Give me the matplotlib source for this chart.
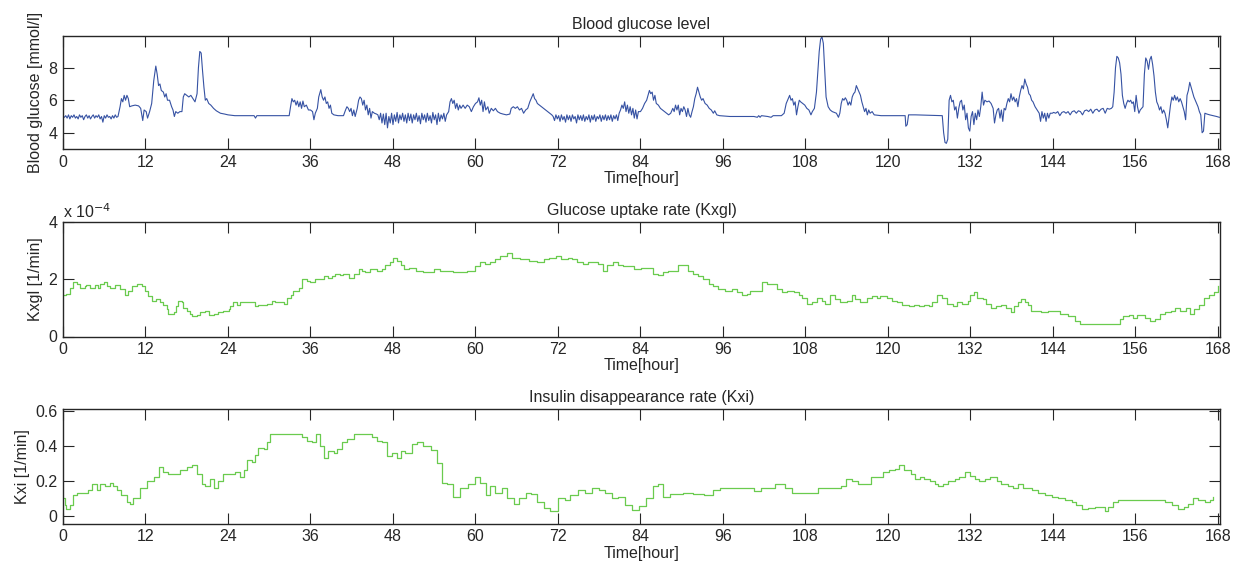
import numpy as np
import matplotlib
matplotlib.use("Agg")
from matplotlib import pyplot as plt

plt.rcParams["font.family"] = ["Liberation Sans", "DejaVu Sans"]
plt.rcParams["font.size"] = 11.5
plt.rcParams["text.color"] = "#262626"
plt.rcParams["axes.labelcolor"] = "#262626"
plt.rcParams["xtick.color"] = "#262626"
plt.rcParams["ytick.color"] = "#262626"

# ---- blood glucose [mmol/l] ----
# noisy stretches sampled at a fixed step: (start hour, step, values)
bg_night1 = [5.0, 4.95, 5.05, 4.9, 5.1, 4.85, 5.05, 4.95, 5.1, 4.9, 5.0, 4.85, 5.1, 4.95,
             5.05, 4.8, 5.0, 5.1, 4.9, 5.05, 4.85, 5.0, 5.1, 4.9, 5.05, 4.95, 5.1, 4.85,
             5.0, 4.65, 5.05, 4.9, 5.1, 4.95, 5.0, 4.85, 5.05, 4.9, 5.1, 4.95]
bg_night2 = [5.1, 4.8, 5.2, 4.6, 5.15, 4.5, 5.2, 4.3, 5.0, 4.6, 5.2, 4.5, 5.1, 4.7, 5.25,
             4.6, 5.1, 4.8, 5.2, 4.7, 5.1, 4.6, 5.2, 4.75, 5.15, 4.6, 5.1, 4.8, 5.2, 4.7,
             5.05, 4.55, 5.2, 4.8, 5.1, 4.65, 5.2, 4.75, 5.05, 4.6, 5.25, 4.8, 5.1, 4.5,
             5.2, 4.7, 5.1, 4.85, 5.2, 4.7, 5.1]
bg_night3 = [5.0, 4.75, 5.1, 4.85, 5.05, 4.7, 5.1, 4.8, 5.0, 4.65, 5.1, 4.8, 5.05, 4.7,
             5.1, 4.85, 5.0, 4.6, 5.1, 4.8, 5.05, 4.75, 5.1, 4.7, 5.0, 4.8, 5.1, 4.65,
             5.05, 4.8, 5.1, 4.7, 5.0, 4.85, 5.1, 4.7, 5.05, 4.8, 5.1, 4.75, 5.05, 4.8,
             5.1, 4.7, 5.05, 4.85, 5.1, 4.75, 5.2]
bg_night4 = [5.25, 5.2, 5.3, 5.05, 5.25, 5.3, 5.2, 5.3, 5.1, 5.3, 5.35, 5.2, 5.35, 5.3,
             5.1, 5.35, 5.4, 5.3, 5.45, 5.2, 5.4, 5.45, 5.3, 5.45, 5.5, 5.2, 5.5, 5.45, 5.5]
bg_noisy = [(0.0, 0.2, bg_night1), (45.8, 0.2, bg_night2),
            (71.3, 0.2, bg_night3), (144.1, 0.3, bg_night4)]

# the rest, read point by point
bg_hours = [8.0, 8.3, 8.5, 8.7, 8.9, 9.1, 9.3, 9.5, 9.7, 10.0, 10.5, 11.0, 11.3, 11.6, 11.8,
            12.1, 12.3, 12.6, 12.9, 13.2, 13.5, 13.7, 13.9, 14.1, 14.3, 14.6, 14.8, 15.0,
            15.2, 15.5, 15.8, 16.0, 16.2, 16.4, 16.7, 17.0, 17.3, 17.5, 17.7, 18.0, 18.3,
            18.6, 18.9, 19.2, 19.5, 19.7, 19.9, 20.1, 20.3, 20.5, 20.7, 20.9, 21.2, 21.5,
            21.9, 22.3, 22.9, 23.5, 24.0, 25.0, 27.0, 27.8, 28.0, 28.2, 30.0, 32.9, 33.1,
            33.3, 33.5, 33.7, 33.9, 34.1, 34.3, 34.5, 34.7, 34.9, 35.1, 35.4, 35.7, 36.0,
            36.3, 36.5, 36.7, 37.0, 37.2, 37.4, 37.5, 37.7, 37.9, 38.1, 38.3, 38.5, 38.7,
            38.9, 39.1, 39.4, 40.0, 40.8, 41.1, 41.3, 41.5, 41.7, 41.9, 42.1, 42.3, 42.5,
            42.8, 43.0, 43.2, 43.4, 43.6, 43.8, 44.0, 44.2, 44.4, 44.6, 44.8, 45.0, 45.3,
            45.6,
            56.1, 56.3, 56.5, 56.7, 56.9, 57.1, 57.3, 57.5, 57.7, 57.9, 58.2, 58.5, 58.8,
            59.1, 59.4, 59.7, 60.0, 60.3, 60.5, 60.7, 60.9, 61.1, 61.3, 61.5, 61.8, 62.0,
            62.3, 62.6, 62.9, 63.2, 63.6, 64.0, 64.5, 65.0, 65.2, 65.5, 65.8, 66.1, 66.4,
            66.7, 67.0, 67.3, 67.6, 67.9, 68.2, 68.4, 68.6, 68.8, 69.0, 69.3, 69.6, 69.9,
            70.2, 70.5, 70.8, 71.1,
            81.1, 81.3, 81.5, 81.7, 81.9, 82.1, 82.3, 82.5, 82.7, 82.9, 83.1, 83.3, 83.5,
            83.7, 84.0, 84.3, 84.6, 84.9, 85.1, 85.3, 85.5, 85.7, 85.9, 86.1, 86.3, 86.6,
            86.9, 87.2, 87.5, 87.8, 88.1, 88.4, 88.7, 88.9, 89.1, 89.3, 89.5, 89.7, 89.9,
            90.1, 90.3, 90.5, 90.7, 90.9, 91.1, 91.3, 91.5, 91.7, 91.9, 92.1, 92.3, 92.5,
            92.7, 92.9, 93.1, 93.4, 93.7, 94.0, 94.3, 94.6, 94.8, 95.1, 95.5, 97.0, 99.0,
            100.5, 101.0, 101.2, 101.4, 101.6, 102.5, 103.0, 103.3, 104.5, 104.9, 105.2,
            105.5, 105.7, 105.9, 106.1, 106.3, 106.5, 106.7, 106.9, 107.1, 107.3, 107.6,
            107.9, 108.2, 108.5, 108.8, 109.0, 109.3, 109.6, 109.8, 110.0, 110.2, 110.4,
            110.6, 110.8, 111.0, 111.3, 111.6, 111.9, 112.2, 112.5, 112.8, 113.0, 113.2,
            113.4, 113.6, 113.8, 114.0, 114.2, 114.4, 114.6, 114.8, 115.0, 115.2, 115.4,
            115.6, 115.8, 116.0, 116.2, 116.4, 116.6, 116.8, 117.0, 117.2, 117.4, 117.7,
            118.0, 119.0, 122.5, 122.6, 122.8, 123.0, 124.0, 127.9, 128.1, 128.3, 128.5,
            128.7, 128.9, 129.1, 129.3, 129.5, 129.7, 129.9, 130.1, 130.3, 130.5, 130.7,
            130.9, 131.1, 131.3, 131.5, 131.7, 131.9, 132.1, 132.3, 132.5, 132.7, 132.9,
            133.1, 133.3, 133.5, 133.7, 133.9, 134.1, 134.4, 134.7, 135.0, 135.3, 135.5,
            135.7, 135.9, 136.1, 136.3, 136.5, 136.7, 136.9, 137.1, 137.3, 137.5, 137.7,
            137.9, 138.1, 138.3, 138.5, 138.7, 138.9, 139.1, 139.3, 139.5, 139.7, 139.9,
            140.1, 140.3, 140.5, 140.7, 140.9, 141.1, 141.4, 141.7, 142.0, 142.2, 142.4,
            142.6, 142.8, 143.0, 143.2, 143.4, 143.6, 143.9,
            152.7, 152.9, 153.1, 153.3, 153.5, 153.7, 153.9, 154.1, 154.3, 154.5, 154.7,
            154.9, 155.1, 155.3, 155.5, 155.7, 155.9, 156.1, 156.3, 156.5, 156.7, 156.9,
            157.1, 157.3, 157.5, 157.7, 157.9, 158.1, 158.3, 158.5, 158.7, 158.9, 159.1,
            159.3, 159.5, 159.7, 159.9, 160.1, 160.3, 160.5, 160.7, 160.9, 161.1, 161.3,
            161.5, 161.7, 161.9, 162.1, 162.3, 162.5, 162.7, 162.9, 163.1, 163.3, 163.5,
            163.7, 163.9, 164.1, 164.3, 164.5, 164.7, 164.9, 165.1, 165.3, 165.5, 165.7,
            165.9, 166.1, 166.4, 166.8, 167.3, 167.8, 168.2]
bg_mmol = [5.0, 5.6, 6.1, 5.9, 6.3, 6.0, 6.3, 6.1, 5.6, 5.65, 5.7, 5.65, 5.5, 4.75, 5.4,
           5.3, 4.9, 5.3, 5.8, 7.2, 8.1, 7.6, 6.9, 7.0, 6.6, 6.5, 6.2, 6.4,
           6.0, 6.0, 5.6, 5.4, 5.0, 5.3, 5.2, 5.3, 5.3, 6.2, 6.4, 6.3, 6.2,
           6.3, 6.1, 5.9, 6.4, 8.0, 9.0, 8.9, 7.8, 6.8, 6.0, 6.1, 5.8, 5.7,
           5.5, 5.35, 5.2, 5.15, 5.1, 5.05, 5.05, 5.05, 4.9, 5.05, 5.05, 5.05, 5.6,
           6.1, 5.9, 6.0, 5.7, 5.95, 5.6, 5.9, 5.5, 5.95, 5.6, 5.7, 5.4, 5.4,
           5.3, 4.8, 5.2, 5.5, 6.2, 6.5, 6.65, 6.2, 6.0, 6.2, 5.8, 5.9, 5.5,
           5.7, 5.2, 5.1, 5.05, 5.05, 5.4, 5.6, 5.5, 5.3, 5.5, 5.05, 5.4, 5.0,
           5.5, 6.0, 6.2, 6.1, 5.7, 6.0, 5.4, 5.7, 5.1, 5.5, 4.9, 5.3, 5.2,
           5.15,
           5.3, 5.9, 6.1, 5.8, 6.0, 5.5, 5.8, 5.4, 5.7, 5.5, 5.7, 5.5, 5.7,
           5.6, 5.3, 5.6, 5.8, 5.9, 6.15, 5.7, 6.0, 5.3, 5.9, 5.4, 5.6, 5.2,
           5.5, 5.35, 5.5, 5.3, 5.2, 5.15, 5.1, 5.15, 5.5, 5.6, 5.5, 5.6, 5.4,
           5.5, 5.2, 5.4, 5.5, 5.9, 6.2, 6.4, 6.1, 6.0, 5.8, 5.7, 5.6, 5.5,
           5.4, 5.3, 5.2, 5.1,
           5.4, 5.7, 5.5, 5.9, 5.3, 5.7, 5.2, 5.6, 5.1, 5.5, 4.9, 5.4, 4.85,
           5.3, 5.3, 5.5, 5.8, 6.0, 6.3, 6.6, 6.4, 6.5, 6.0, 6.3, 5.8, 5.7,
           5.5, 5.4, 5.3, 5.2, 5.1, 5.2, 5.5, 5.3, 5.7, 5.4, 5.7, 5.1, 5.5,
           5.3, 5.6, 5.4, 5.0, 5.5, 5.1, 4.95, 5.3, 5.6, 6.1, 6.4, 6.8, 6.5,
           6.2, 6.0, 6.1, 5.8, 5.7, 5.5, 5.4, 5.2, 5.35, 5.1, 5.05, 5.0, 5.0,
           5.0, 4.95, 5.05, 4.95, 5.05, 5.0, 4.95, 5.05, 5.05, 5.2, 5.8,
           6.1, 6.3, 6.0, 6.1, 5.7, 5.9, 5.1, 5.6, 6.0, 5.9, 5.8,
           5.7, 5.5, 5.4, 5.1, 5.3, 5.5, 6.5, 7.8, 9.0, 9.75, 9.9,
           9.5, 7.8, 6.2, 5.6, 5.4, 5.3, 5.25, 5.2, 4.95, 5.2, 5.8,
           6.1, 6.0, 6.15, 6.0, 5.7, 5.9, 5.7, 6.2, 6.4, 6.5, 6.9,
           6.7, 6.5, 6.3, 5.9, 5.6, 5.3, 5.5, 5.1, 5.4, 5.2, 5.3,
           5.1, 5.05, 5.05, 4.4, 4.5, 5.1, 5.1, 5.05, 4.0, 3.4, 3.35,
           3.6, 6.0, 6.3, 5.9, 6.0, 5.4, 5.6, 4.9, 5.5, 5.9, 6.0,
           5.4, 5.7, 4.8, 5.2, 4.3, 4.1, 5.0, 5.3, 4.5, 5.2, 4.8,
           5.4, 5.0, 5.6, 6.5, 5.7, 6.0, 5.9, 5.95, 5.8, 5.5, 4.6,
           5.1, 5.4, 5.5, 4.9, 5.4, 4.7, 5.5, 5.4, 5.8, 6.1, 5.9,
           6.4, 6.0, 6.2, 5.9, 6.1, 5.6, 6.2, 6.6, 6.9, 6.7, 7.3,
           7.0, 6.8, 6.4, 6.3, 6.0, 5.9, 5.6, 5.4, 5.2, 4.7, 5.3,
           4.9, 5.2, 4.7, 5.2, 4.9, 5.2, 5.2,
           5.6, 6.5, 8.0, 8.7, 8.6, 8.3, 7.6, 6.3, 5.8, 5.5, 5.8,
           6.0, 5.9, 6.0, 5.8, 5.9, 5.3, 6.3, 5.6, 5.2, 5.4, 5.5,
           5.6, 7.6, 8.6, 8.4, 7.9, 8.5, 8.7, 8.2, 7.5, 6.5, 5.9,
           5.7, 5.4, 5.6, 5.2, 5.4, 5.2, 4.8, 4.3, 5.0, 5.7, 6.2,
           6.0, 6.3, 6.0, 6.2, 5.9, 6.1, 5.9, 5.6, 5.3, 4.8, 6.3,
           6.6, 7.1, 6.8, 6.5, 6.2, 6.0, 5.8, 5.6, 5.3, 5.1, 4.0,
           4.1, 5.2, 5.15, 5.1, 5.05, 5.0, 4.95]

# ---- glucose uptake rate Kxgl [1e-4 1/min], piecewise constant ----
kxgl_hours = [0.0, 0.5, 1.0, 1.5, 2.0, 2.5, 3.2, 3.4, 3.9, 4.7, 5.1, 5.4, 5.9, 6.4, 6.8, 7.6,
              8.3, 9.0, 9.5, 10.0, 10.7, 11.5, 11.9, 12.4, 12.9, 13.6, 14.1, 14.6, 15.1,
              15.3, 16.1, 16.5, 16.8, 17.3, 17.5, 18.0, 18.5, 18.7, 19.5, 20.0, 20.7, 21.2,
              21.9, 22.6, 23.3, 24.1, 24.3, 24.8, 25.3, 25.8, 26.7, 28.0, 28.4, 29.2, 29.7,
              30.4, 30.9, 31.6, 32.1, 32.6, 33.1, 33.5, 34.3, 34.8, 35.5, 36.0, 36.7, 37.4,
              37.9, 38.6, 39.1, 39.6, 40.3, 40.8, 41.6, 42.3, 43.0, 43.5, 44.0, 44.7, 45.7,
              46.4, 46.9, 47.6, 48.0, 48.6, 49.1, 49.6, 50.4, 51.4, 52.4, 53.1, 53.9, 54.8,
              55.8, 56.8, 57.8, 58.7, 59.5, 60.0, 60.7, 61.4, 62.1, 62.9, 63.6, 64.6, 65.3,
              66.5, 67.8, 69.0, 70.0, 70.7, 71.7, 72.4, 73.4, 74.1, 74.8, 75.6, 76.3, 77.0,
              77.8, 78.5, 79.2, 80.0, 80.7, 81.4, 82.1, 83.1, 84.1, 85.1, 85.8, 86.5, 87.3,
              88.0, 88.7, 89.5, 90.2, 90.9, 91.7, 92.4, 93.1, 93.9, 94.6, 95.3, 96.3, 97.3,
              98.0, 98.7, 99.5, 100.0, 100.7, 101.7, 102.4, 103.1, 103.9, 104.6, 105.3,
              106.3, 107.0, 107.5, 108.2, 108.9, 109.7, 110.4, 110.8, 111.6, 112.3, 113.0,
              114.0, 114.7, 115.2, 116.0, 116.9, 117.7, 118.4, 118.9, 119.9, 120.6, 121.3,
              122.0, 123.0, 123.8, 124.5, 125.2, 126.0, 126.4, 127.2, 127.9, 128.6, 129.4,
              130.1, 130.8, 131.6, 132.0, 132.5, 133.0, 133.8, 134.2, 135.0, 135.7, 136.4,
              137.2, 137.9, 138.4, 138.9, 139.4, 139.9, 140.3, 140.8, 141.8, 142.3, 143.3,
              144.2, 145.0, 146.2, 147.2, 147.9, 148.6, 153.5, 153.8, 154.2, 155.0, 155.7,
              156.2, 156.9, 157.4, 158.1, 158.9, 159.6, 160.3, 161.1, 161.8, 162.5, 163.3,
              164.0, 164.5, 165.2, 165.9, 166.7, 167.4, 168.0]
kxgl_vals = [1.45, 1.5, 1.7, 1.9, 1.85, 1.7, 1.75, 1.8, 1.7, 1.8, 1.7, 1.85, 1.9, 1.75, 1.7,
             1.8, 1.65, 1.45, 1.6, 1.75, 1.85, 1.75, 1.6, 1.4, 1.25, 1.3, 1.2, 1.1, 0.95,
             0.8, 0.85, 1.05, 1.25, 1.2, 1.0, 0.9, 0.8, 0.7, 0.75, 0.85, 0.9, 0.75,
             0.8, 0.85, 0.9, 0.95, 1.05, 1.2, 1.1, 1.2, 1.2, 1.05, 1.1, 1.1, 1.15,
             1.25, 1.2, 1.2, 1.15, 1.35, 1.45, 1.6, 1.7, 2.0, 1.95, 1.9, 2.0, 2.0,
             2.1, 2.05, 2.1, 2.2, 2.15, 2.2, 2.05, 2.2, 2.35, 2.3, 2.25, 2.35, 2.3,
             2.35, 2.5, 2.6, 2.75, 2.65, 2.5, 2.35, 2.4, 2.3, 2.25, 2.25, 2.35, 2.3,
             2.3, 2.25, 2.25, 2.3, 2.3, 2.45, 2.6, 2.55, 2.6, 2.7, 2.8, 2.9, 2.75,
             2.7, 2.65, 2.6, 2.7, 2.75, 2.8, 2.7, 2.75, 2.7, 2.6, 2.55, 2.6, 2.6,
             2.55, 2.3, 2.5, 2.6, 2.5, 2.45, 2.45, 2.35, 2.4, 2.4, 2.2, 2.15, 2.25,
             2.3, 2.3, 2.5, 2.5, 2.3, 2.2, 2.1, 2.0, 1.85, 1.75, 1.65, 1.6, 1.65,
             1.55, 1.45, 1.5, 1.6, 1.6, 1.9, 1.85, 1.85, 1.65, 1.55, 1.6,
             1.55, 1.45, 1.35, 1.15, 1.2, 1.35, 1.25, 1.15, 1.45, 1.3, 1.2,
             1.25, 1.45, 1.3, 1.2, 1.35, 1.4, 1.35, 1.4, 1.35, 1.25, 1.2,
             1.1, 1.05, 1.1, 1.05, 1.1, 1.05, 1.2, 1.45, 1.35, 1.15, 1.05,
             1.2, 1.15, 1.25, 1.45, 1.55, 1.35, 1.3, 1.15, 1.0, 1.05, 1.1,
             1.0, 0.85, 1.05, 1.2, 1.3, 1.2, 1.1, 0.9, 0.9, 0.85, 0.9,
             0.9, 0.8, 0.7, 0.55, 0.45, 0.43, 0.43, 0.6, 0.7, 0.75, 0.65,
             0.75, 0.75, 0.65, 0.55, 0.6, 0.8, 0.85, 0.9, 1.0, 0.9, 1.0,
             0.8, 0.95, 1.1, 1.35, 1.45, 1.55, 1.75]

# ---- insulin disappearance rate Kxi [1/min], piecewise constant ----
kxi_hours = [0.0, 0.3, 0.5, 1.0, 1.5, 2.0, 3.0, 3.7, 4.2, 4.9, 5.4, 6.1, 6.8, 7.3, 7.8, 8.5,
             9.3, 9.8, 10.2, 11.2, 12.2, 13.2, 13.9, 14.6, 15.3, 16.1, 17.0, 18.0, 18.7,
             19.5, 20.2, 20.7, 21.4, 21.9, 22.6, 23.3, 24.3, 25.0, 25.8, 26.3, 26.7, 27.5,
             28.0, 28.4, 29.2, 29.7, 30.1, 31.1, 32.1, 33.1, 34.0, 34.8, 35.5, 36.2, 36.8,
             37.4, 38.0, 38.6, 39.4, 39.9, 40.6, 41.3, 42.3, 43.2, 44.2, 44.9, 45.7, 46.4,
             47.1, 47.9, 48.6, 49.1, 49.8, 50.7, 51.5, 52.3, 53.5, 54.4, 55.1, 55.9, 56.8,
             57.7, 58.9, 59.9, 60.6, 61.6, 62.1, 62.8, 63.8, 64.6, 65.6, 66.4, 67.4, 68.1,
             68.9, 69.9, 70.9, 72.0, 73.0, 73.7, 74.9, 75.9, 76.9, 77.9, 78.9, 79.9, 80.8,
             81.8, 82.8, 83.8, 84.8, 85.8, 86.5, 87.3, 88.3, 90.2, 91.7, 93.2, 94.5, 95.5,
             97.5, 99.5, 100.5, 101.5, 103.5, 105.0, 106.0, 108.0, 109.8, 110.8, 112.2,
             113.2, 113.9, 114.7, 115.6, 116.8, 117.6, 118.5, 119.3, 120.2, 121.0, 121.6,
             122.4, 123.4, 123.9, 124.6, 125.3, 126.1, 126.8, 127.3, 128.0, 128.7, 129.7,
             130.4, 131.2, 131.9, 132.6, 133.3, 134.1, 134.8, 135.8, 136.5, 137.5, 138.2,
             138.9, 139.7, 140.9, 141.8, 142.8, 143.8, 144.8, 145.7, 146.7, 147.4, 148.2,
             149.1, 150.1, 151.6, 152.0, 152.8, 153.5, 155.4, 157.4, 159.3, 160.3, 161.3,
             162.2, 163.0, 163.7, 164.4, 165.1, 166.1, 166.8, 167.3]
kxi_vals = [0.1, 0.06, 0.04, 0.06, 0.12, 0.13, 0.13, 0.15, 0.18, 0.15, 0.18, 0.17, 0.19, 0.17,
            0.15, 0.12, 0.08, 0.07, 0.1, 0.16, 0.2, 0.22, 0.28, 0.25, 0.24, 0.24, 0.26, 0.28,
            0.29, 0.24, 0.18, 0.17, 0.21, 0.16, 0.2, 0.24, 0.24, 0.25, 0.22, 0.26, 0.32, 0.31,
            0.35, 0.39, 0.38, 0.42, 0.47, 0.47, 0.47, 0.47, 0.47, 0.45, 0.43, 0.42, 0.47,
            0.4, 0.33, 0.37, 0.36, 0.38, 0.42, 0.44, 0.47, 0.47, 0.47, 0.45, 0.43, 0.42,
            0.34, 0.36, 0.33, 0.37, 0.36, 0.41, 0.42, 0.4, 0.375, 0.3, 0.19, 0.18, 0.11,
            0.16, 0.18, 0.22, 0.19, 0.12, 0.17, 0.13, 0.16, 0.1, 0.07, 0.1, 0.13, 0.125,
            0.08, 0.045, 0.03, 0.1, 0.09, 0.12, 0.15, 0.13, 0.16, 0.15, 0.13, 0.1, 0.11,
            0.06, 0.035, 0.055, 0.1, 0.17, 0.18, 0.11, 0.125, 0.13, 0.125, 0.12, 0.145, 0.16,
            0.16, 0.16, 0.14, 0.16, 0.18, 0.16, 0.13, 0.13, 0.16, 0.16, 0.16,
            0.17, 0.21, 0.2, 0.18, 0.18, 0.22, 0.22, 0.25, 0.26, 0.27, 0.29,
            0.26, 0.24, 0.21, 0.22, 0.21, 0.2, 0.18, 0.17, 0.18, 0.2, 0.21,
            0.22, 0.25, 0.23, 0.21, 0.2, 0.21, 0.22, 0.2, 0.18, 0.17, 0.16,
            0.18, 0.16, 0.15, 0.13, 0.12, 0.11, 0.1, 0.09, 0.08, 0.06, 0.04,
            0.045, 0.05, 0.03, 0.05, 0.08, 0.09, 0.09, 0.09, 0.09, 0.08, 0.06,
            0.04, 0.05, 0.07, 0.1, 0.09, 0.08, 0.09, 0.11]

hour_ticks = list(range(0, 169, 12))

BLUE = "#3652a3"
GREEN = "#6acb4e"

# assemble glucose trace
t_parts = [np.array(bg_hours)]
v_parts = [np.array(bg_mmol)]
for start, step, vals in bg_noisy:
    t_parts.append(start + step * np.arange(len(vals)))
    v_parts.append(np.array(vals))
bg_t = np.concatenate(t_parts)
bg_v = np.concatenate(v_parts)
order = np.argsort(bg_t)
bg_t, bg_v = bg_t[order], bg_v[order]

fig = plt.figure(figsize=(12.4, 5.68), dpi=100)
left, width = 63 / 1240, (1220 - 63) / 1240
ax1 = fig.add_axes([left, 1 - 149 / 568, width, 113 / 568])
ax2 = fig.add_axes([left, 1 - 336.5 / 568, width, 114.5 / 568])
ax3 = fig.add_axes([left, 1 - 523.7 / 568, width, 114.7 / 568])


def style(ax):
    ax.set_xlim(0, 168.3)
    ax.set_xticks(hour_ticks)
    ax.tick_params(direction="in", top=True, right=True, length=8, width=0.8,
                   labelsize=11.5, pad=4)
    for s in ax.spines.values():
        s.set_linewidth(1.0)
        s.set_color("#262626")
    ax.set_xlabel("Time[hour]", labelpad=1)


ax1.plot(bg_t, bg_v, color=BLUE, lw=0.8)
style(ax1)
ax1.set_ylim(3, 9.95)
ax1.set_yticks([4, 6, 8])
ax1.set_title("Blood glucose level", fontsize=11.5, pad=5)
ax1.set_ylabel("Blood glucose [mmol/l]")

# Kxgl plotted in its 1e-4 units, exponent written above the axis like MATLAB
ax2.plot(kxgl_hours, kxgl_vals, color=GREEN, lw=0.9, drawstyle="steps-post")
style(ax2)
ax2.set_ylim(0, 4)
ax2.set_yticks([0, 2, 4])
ax2.text(0.0, 1.01, "x 10$^{-4}$", transform=ax2.transAxes, ha="left", va="bottom",
         fontsize=11.5)
ax2.set_title("Glucose uptake rate (Kxgl)", fontsize=11.5, pad=5)
ax2.set_ylabel("Kxgl [1/min]")

ax3.plot(kxi_hours, kxi_vals, color=GREEN, lw=0.9, drawstyle="steps-post")
style(ax3)
ax3.set_ylim(-0.045, 0.61)
ax3.set_yticks([0, 0.2, 0.4, 0.6])
ax3.set_yticklabels(["0", "0.2", "0.4", "0.6"])
ax3.set_title("Insulin disappearance rate (Kxi)", fontsize=11.5, pad=5)
ax3.set_ylabel("Kxi [1/min]")

fig.savefig("out.png", dpi=100)
